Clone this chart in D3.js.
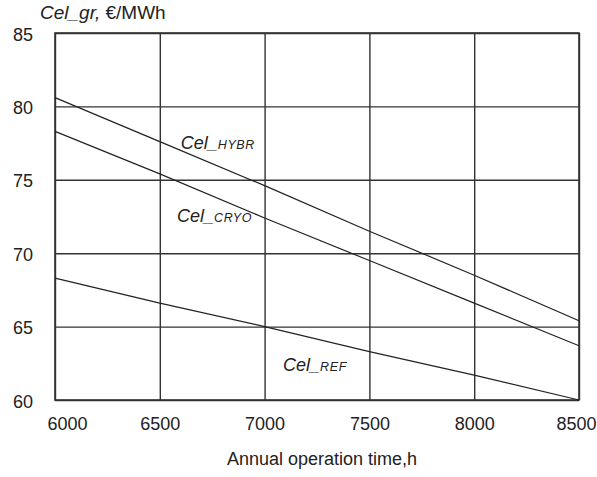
<!DOCTYPE html>
<html>
<head>
<meta charset="utf-8">
<script src="https://cdn.jsdelivr.net/npm/d3@7"></script>
<style>
  body { margin: 0; background: #fff; }
  svg text { font-family: "Liberation Sans", Arial, sans-serif; fill: #222; }
</style>
</head>
<body>
<svg id="chart"></svg>
<script>
// data
const hours = [6000, 6500, 7000, 7500, 8000, 8500];
const celHybr = [80.6, 77.6, 74.6, 71.5, 68.5, 65.4];
const celCryo = [78.3, 75.4, 72.4, 69.5, 66.6, 63.7];
const celRef = [68.3, 66.6, 65.0, 63.3, 61.7, 60.0];
const yTicks = [60, 65, 70, 75, 80, 85];
const seriesLabels = [
  { sub: 'HYBR', at: 6600, val: 77.1 },
  { sub: 'CRYO', at: 6582, val: 72.1 },
  { sub: 'REF', at: 7088, val: 62.0 }
];

const W = 597, H = 477;
const margin = { top: 33, right: 18, bottom: 77, left: 55 };
const width = W - margin.left - margin.right;   // 524
const height = H - margin.top - margin.bottom;  // 367

const svg = d3.select('#chart')
  .attr('width', W)
  .attr('height', H);

const g = svg.append('g')
  .attr('transform', `translate(${margin.left},${margin.top})`);

const x = d3.scaleLinear().domain([6000, 8500]).range([0, width]);
const y = d3.scaleLinear().domain([60, 85]).range([height, 0]);

// horizontal grid + y labels
const yAxis = g.append('g')
  .call(d3.axisLeft(y).tickValues(yTicks).tickSize(-width).tickPadding(22));
yAxis.select('.domain').remove();
yAxis.selectAll('line').attr('stroke', '#333').attr('stroke-width', 1.4);
yAxis.selectAll('text')
  .attr('dy', '7px')
  .style('font-size', '18px')
  .style('fill', '#222');

// vertical grid + x labels
const xAxis = g.append('g')
  .attr('transform', `translate(0,${height})`)
  .call(d3.axisBottom(x).tickValues(hours).tickSize(-height).tickPadding(30).tickFormat(d3.format('d')));
xAxis.select('.domain').remove();
xAxis.selectAll('line').attr('stroke', '#333').attr('stroke-width', 1.4);
xAxis.selectAll('text')
  .attr('y', 30)
  .attr('dy', 0)
  .style('font-size', '18px')
  .style('fill', '#222');
// end labels are nudged inward like in the original
const tickTexts = xAxis.selectAll('.tick text').nodes();
d3.select(tickTexts[0]).attr('text-anchor', 'start').attr('x', -8);
d3.select(tickTexts[tickTexts.length - 1]).attr('text-anchor', 'end').attr('x', 17);

// frame
g.append('rect')
  .attr('width', width)
  .attr('height', height)
  .attr('fill', 'none')
  .attr('stroke', '#333')
  .attr('stroke-width', 1.6);

// lines
const line = d3.line()
  .x((d, i) => x(hours[i]))
  .y(d => y(d));

[celHybr, celCryo, celRef].forEach(s => {
  g.append('path')
    .datum(s)
    .attr('fill', 'none')
    .attr('stroke', '#222')
    .attr('stroke-width', 1.2)
    .attr('d', line);
});

// series labels
seriesLabels.forEach(l => {
  const t = g.append('text')
    .attr('x', x(l.at))
    .attr('y', y(l.val))
    .style('font-style', 'italic')
    .style('font-size', '18px');
  t.append('tspan').text('Cel_');
  t.append('tspan')
    .style('font-size', '12.5px')
    .style('letter-spacing', '0.6px')
    .text(l.sub);
});

// y title
const title = svg.append('text')
  .attr('x', 40)
  .attr('y', 19)
  .style('font-size', '19px');
title.append('tspan').style('font-style', 'italic').text('Cel_gr,');
title.append('tspan').text(' €/MWh');

// x title
svg.append('text')
  .attr('x', margin.left + width / 2 + 5)
  .attr('y', 465)
  .attr('text-anchor', 'middle')
  .style('font-size', '18px')
  .text('Annual operation time,h');
</script>
</body>
</html>
